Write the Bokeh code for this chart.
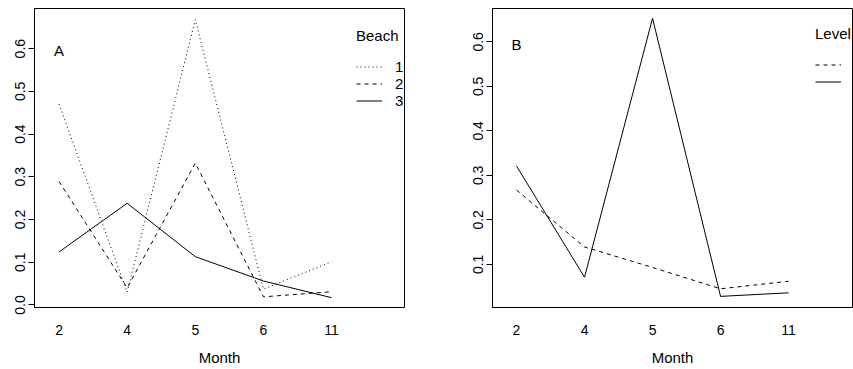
from bokeh.plotting import figure
from bokeh.layouts import row
from bokeh.models import (FixedTicker, Range1d, Legend, LegendItem,
                          NumeralTickFormatter)
from bokeh.core.properties import value
from bokeh.embed import file_html
from bokeh.resources import INLINE

months = ["2", "4", "5", "6", "11"]
pos = [1, 2, 3, 4, 5]

beach1 = [0.470, 0.030, 0.668, 0.037, 0.101]
beach2 = [0.289, 0.040, 0.332, 0.019, 0.031]
beach3 = [0.124, 0.238, 0.113, 0.056, 0.017]

level1 = [0.267, 0.139, 0.093, 0.045, 0.062]
level2 = [0.321, 0.071, 0.653, 0.028, 0.036]

yticks_a = [0.0, 0.1, 0.2, 0.3, 0.4, 0.5, 0.6]
yticks_b = [0.1, 0.2, 0.3, 0.4, 0.5, 0.6]

FONT = "Liberation Sans"


def make_fig(width, xr, yr, yticks, letter, bl, br):
    p = figure(width=width, height=369, output_backend="svg", toolbar_location=None,
               x_range=Range1d(*xr), y_range=Range1d(*yr),
               min_border_left=bl, min_border_right=br, min_border_top=8,
               min_border_bottom=62)
    p.grid.visible = False
    p.outline_line_color = "black"
    p.outline_line_width = 1
    p.background_fill_color = "white"
    p.border_fill_color = "white"

    xa = p.xaxis[0]
    xa.ticker = FixedTicker(ticks=pos)
    xa.major_label_overrides = {i: m for i, m in zip(pos, months)}
    xa.axis_line_color = None
    xa.major_tick_line_color = None
    xa.minor_tick_line_color = None
    xa.major_tick_out = 0
    xa.major_tick_in = 0
    xa.major_label_standoff = 17
    xa.major_label_text_font = FONT
    xa.major_label_text_font_size = "14px"
    xa.major_label_text_color = "black"
    xa.axis_label = "Month"
    xa.axis_label_standoff = 11
    xa.axis_label_text_font = FONT
    xa.axis_label_text_font_size = "15px"
    xa.axis_label_text_font_style = "normal"
    xa.axis_label_text_color = "black"

    ya = p.yaxis[0]
    ya.ticker = FixedTicker(ticks=yticks)
    ya.formatter = NumeralTickFormatter(format="0.0")
    ya.major_label_orientation = "vertical"
    ya.major_tick_out = 6
    ya.major_tick_in = 0
    ya.minor_tick_line_color = None
    ya.axis_line_color = "black"
    ya.major_tick_line_color = "black"
    ya.major_label_standoff = 3
    ya.major_label_text_font = FONT
    ya.major_label_text_font_size = "14px"
    ya.major_label_text_color = "black"

    p.text(x=[1], y=[0.595], text=[letter], text_font=value(FONT),
           text_font_size="15px", text_align="center", text_baseline="middle",
           text_color="black")
    return p


pa = make_fig(465, (0.64, 6.07), (-0.006, 0.694), yticks_a, "A", 34, 61)
r1 = pa.line(pos, beach1, line_color="black", line_width=1, line_dash="1 3")
r2 = pa.line(pos, beach2, line_color="black", line_width=1, line_dash="4 4")
r3 = pa.line(pos, beach3, line_color="black", line_width=1)
leg_a = Legend(items=[LegendItem(label="1", renderers=[r1]),
                      LegendItem(label="2", renderers=[r2]),
                      LegendItem(label="3", renderers=[r3])],
               title="Beach", location=(322, 198))

pb = make_fig(388, (0.647, 5.94), (0.003, 0.675), yticks_b, "B", 27, 1)
s1 = pb.line(pos, level1, line_color="black", line_width=1, line_dash="4 4")
s2 = pb.line(pos, level2, line_color="black", line_width=1)
leg_b = Legend(items=[LegendItem(label="1", renderers=[s1]),
                      LegendItem(label="2", renderers=[s2])],
               title="Level", location=(323, 217))

for p, leg in ((pa, leg_a), (pb, leg_b)):
    leg.border_line_color = None
    leg.background_fill_alpha = 0
    leg.padding = 0
    leg.margin = 0
    leg.spacing = 0
    leg.label_height = 17
    leg.glyph_height = 17
    leg.glyph_width = 26
    leg.label_standoff = 13
    leg.title_standoff = 14
    leg.title_text_font = FONT
    leg.title_text_font_size = "15px"
    leg.title_text_font_style = "normal"
    leg.title_text_color = "black"
    leg.label_text_font = FONT
    leg.label_text_font_size = "15px"
    leg.label_text_color = "black"
    p.add_layout(leg, "center")

layout = row(pa, pb)
open("out.html", "w").write(file_html(layout, INLINE))
